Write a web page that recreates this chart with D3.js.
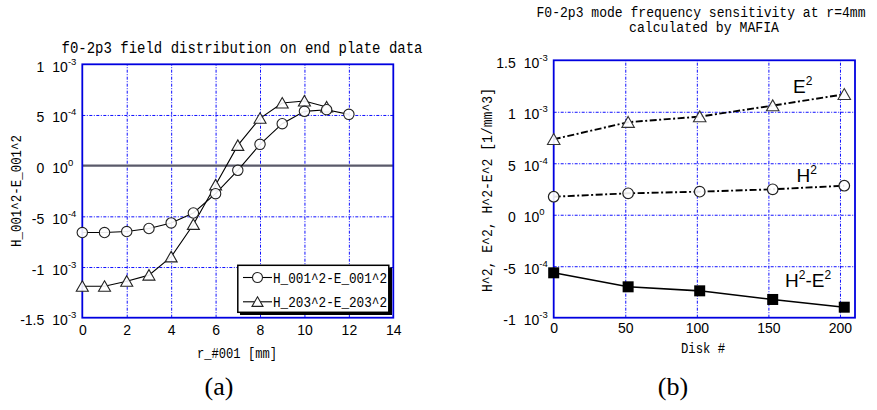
<!DOCTYPE html>
<html><head><meta charset="utf-8">
<script src="https://cdn.jsdelivr.net/npm/d3@7"></script>
<style>body{margin:0;background:#fff}</style>
</head><body>
<svg id="c" width="877" height="410" xmlns="http://www.w3.org/2000/svg"></svg>
<script>
// ---- (a) field distribution on end plate ----
const rH001 = [0, 1, 2, 3, 4, 5, 6, 7, 8, 9, 10, 11, 12];
const h001 = [-6.6e-4, -6.6e-4, -6.5e-4, -6.2e-4, -5.65e-4, -4.67e-4, -2.76e-4, -0.46e-4, 2.1e-4, 4.14e-4, 5.36e-4, 5.52e-4, 5.06e-4];
const rH203 = [0, 1, 2, 3, 4, 5, 6, 7, 8, 9, 10, 11];
const h203 = [-1.19e-3, -1.19e-3, -1.14e-3, -1.08e-3, -0.9e-3, -5.8e-4, -1.9e-4, 2.0e-4, 4.67e-4, 6.18e-4, 6.38e-4, 5.79e-4];
const xTicksA = [0, 2, 4, 6, 8, 10, 12, 14];
const yMantA = ["1", "5", "0", "-5", "-1", "-1.5"];
const yExpA = ["-3", "-4", "0", "-4", "-3", "-3"];
const legendA = ["H_001^2-E_001^2", "H_203^2-E_203^2"];

// ---- (b) frequency sensitivity vs disk ----
const disks = [0, 52, 102, 153, 203];
const eSq = [7.33e-4, 8.99e-4, 9.53e-4, 1.06e-3, 1.17e-3];
const hSq = [1.75e-4, 2.08e-4, 2.24e-4, 2.47e-4, 2.82e-4];
const hMinusE = [-5.64e-4, -7.0e-4, -7.39e-4, -8.23e-4, -8.98e-4];
const xTicksB = [0, 50, 100, 150, 200];
const yMantB = ["1.5", "1", "5", "0", "-5", "-1"];
const yExpB = ["-3", "-3", "-4", "0", "-4", "-3"];

const MONO = "Liberation Mono, DejaVu Sans Mono, monospace";
const SANS = "Liberation Sans, Arial, sans-serif";
const svg = d3.select("#c");

function tickValue(m, e) { return (+m) * Math.pow(10, +e); }

function panel(o) {
  const g = svg.append("g");
  const x = d3.scaleLinear().domain(o.xDom).range([o.left, o.right]);
  const y = d3.scaleLinear().domain(o.yDom).range([o.bottom, o.top]);
  const yVals = o.yMant.map((m, i) => tickValue(m, o.yExp[i]));
  const h = o.bottom - o.top, w = o.right - o.left;

  // dotted blue grid
  const gridStyle = s => {
    s.select(".domain").remove();
    s.selectAll("text").remove();
    s.selectAll("line").attr("stroke", "#1010ff").attr("stroke-width", 1)
      .attr("stroke-dasharray", "3,1.5,1,1.5");
  };
  g.append("g").attr("transform", `translate(0,${o.bottom})`)
    .call(d3.axisBottom(x).tickValues(o.xGrid).tickSize(-h).tickFormat(""))
    .call(gridStyle);
  g.append("g").attr("transform", `translate(${o.left},0)`)
    .call(d3.axisLeft(y).tickValues(yVals.filter(v => v !== 0 || !o.zeroLine)
      .filter(v => y(v) > o.top + 1 && y(v) < o.bottom - 1)).tickSize(-w).tickFormat(""))
    .call(gridStyle);

  if (o.zeroLine) {
    g.append("line").attr("x1", o.left).attr("x2", o.right)
      .attr("y1", y(0)).attr("y2", y(0))
      .attr("stroke", "#5a5a6a").attr("stroke-width", 2.2);
  }

  // x tick labels
  g.append("g").attr("transform", `translate(0,${o.bottom})`)
    .call(d3.axisBottom(x).tickValues(o.xTicks).tickSize(0).tickPadding(o.xPad))
    .call(s => {
      s.select(".domain").remove();
      s.attr("font-family", SANS).attr("font-size", 14);
      s.selectAll("text").attr("fill", "#000");
    });

  // y tick labels written as "m 10^e"
  const ya = g.append("g").attr("transform", `translate(${o.left},0)`)
    .call(d3.axisLeft(y).tickValues(yVals).tickSize(0).tickFormat(""));
  ya.select(".domain").remove();
  ya.selectAll(".tick text").remove();
  ya.attr("font-family", SANS).attr("font-size", 14).attr("text-anchor", null);
  ya.selectAll(".tick").each(function (d, i) {
    const t = d3.select(this);
    t.append("text").attr("x", -38).attr("y", 7).attr("text-anchor", "end")
      .attr("fill", "#000").text(o.yMant[i]);
    const t2 = t.append("text").attr("x", -30).attr("y", 7).attr("text-anchor", "start").attr("fill", "#000");
    t2.append("tspan").text("10");
    t2.append("tspan").attr("dy", -7).attr("font-size", 9.5).text(o.yExp[i]);
  });

  // frame
  g.append("rect").attr("x", o.left).attr("y", o.top).attr("width", w).attr("height", h)
    .attr("fill", "none").attr("stroke", "#0000e0").attr("stroke-width", 1.8);

  return { g, x, y };
}

function triangle(cx, cy, s) {
  const hw = s / 2, hh = s * 0.46;
  return `M${cx},${cy - hh}L${cx + hw},${cy + hh * 0.9}L${cx - hw},${cy + hh * 0.9}Z`;
}

// ================= panel (a) =================
const A = panel({
  left: 82.3, right: 393.3, top: 64.3, bottom: 317.7,
  xDom: [0, 14], yDom: [-1.5e-3, 1e-3],
  xGrid: [2, 4, 6, 8, 10, 12], xTicks: xTicksA, xPad: 7.5,
  yMant: yMantA, yExp: yExpA, zeroLine: true
});
const lineA = d3.line();
const ptsC = rH001.map((r, i) => [A.x(r), A.y(h001[i])]);
const ptsT = rH203.map((r, i) => [A.x(r), A.y(h203[i])]);
A.g.append("path").attr("d", lineA(ptsT)).attr("fill", "none").attr("stroke", "#000").attr("stroke-width", 1.1);
A.g.append("path").attr("d", lineA(ptsC)).attr("fill", "none").attr("stroke", "#000").attr("stroke-width", 1.1);
A.g.selectAll(".tri").data(ptsT).join("path").attr("d", p => triangle(p[0], p[1], 12))
  .attr("fill", "#fff").attr("fill-opacity", 0.9).attr("stroke", "#222").attr("stroke-width", 1.1);
A.g.selectAll(".cir").data(ptsC).join("circle").attr("cx", p => p[0]).attr("cy", p => p[1]).attr("r", 5.2)
  .attr("fill", "#fff").attr("fill-opacity", 0.9).attr("stroke", "#222").attr("stroke-width", 1.1);

// legend
const lg = A.g.append("g");
lg.append("rect").attr("x", 240).attr("y", 267.5).attr("width", 152).attr("height", 47.5).attr("fill", "#000");
lg.append("rect").attr("x", 237.8).attr("y", 265.3).attr("width", 151).attr("height", 47)
  .attr("fill", "#fff").attr("stroke", "#000").attr("stroke-width", 1.5);
legendA.forEach((name, i) => {
  const cy = 277.5 + i * 24.3;
  lg.append("line").attr("x1", 243).attr("x2", 272).attr("y1", cy).attr("y2", cy).attr("stroke", "#000").attr("stroke-width", 1.1);
  if (i === 0) lg.append("circle").attr("cx", 257.5).attr("cy", cy).attr("r", 5).attr("fill", "#fff").attr("stroke", "#222").attr("stroke-width", 1.1);
  else lg.append("path").attr("d", triangle(257.5, cy, 11)).attr("fill", "#fff").attr("stroke", "#222").attr("stroke-width", 1.1);
  lg.append("text").attr("x", 273).attr("y", cy + 5.5).attr("font-family", MONO).attr("font-size", 15)
    .attr("textLength", 114).attr("lengthAdjust", "spacingAndGlyphs").text(name);
});

// titles and axis names (a)
svg.append("text").attr("x", 242).attr("y", 52.5).attr("text-anchor", "middle").attr("font-family", MONO)
  .attr("font-size", 16).attr("textLength", 361).attr("lengthAdjust", "spacingAndGlyphs")
  .text("f0-2p3 field distribution on end plate data");
svg.append("text").attr("transform", "translate(20.5,191) rotate(-90)").attr("text-anchor", "middle")
  .attr("font-family", MONO).attr("font-size", 15).attr("textLength", 112).attr("lengthAdjust", "spacingAndGlyphs")
  .text("H_001^2-E_001^2");
svg.append("text").attr("x", 237).attr("y", 358).attr("text-anchor", "middle").attr("font-family", MONO)
  .attr("font-size", 14).attr("textLength", 80).attr("lengthAdjust", "spacingAndGlyphs")
  .text("r_#001 [mm]");
svg.append("text").attr("x", 219).attr("y", 395).attr("text-anchor", "middle")
  .attr("font-family", "Liberation Serif, Times New Roman, serif").attr("font-size", 26).text("(a)");

// ================= panel (b) =================
const B = panel({
  left: 553.7, right: 855, top: 60.3, bottom: 317.7,
  xDom: [0, 210.5], yDom: [-1e-3, 1.5e-3],
  xGrid: [50, 100, 150, 200], xTicks: xTicksB, xPad: 5.5,
  yMant: yMantB, yExp: yExpB, zeroLine: false
});
const lineB = d3.line();
const pE = disks.map((d, i) => [B.x(d), B.y(eSq[i])]);
const pH = disks.map((d, i) => [B.x(d), B.y(hSq[i])]);
const pD = disks.map((d, i) => [B.x(d), B.y(hMinusE[i])]);
[pE, pH].forEach(p => B.g.append("path").attr("d", lineB(p)).attr("fill", "none")
  .attr("stroke", "#000").attr("stroke-width", 1.9).attr("stroke-dasharray", "7,2.5,2,2.5"));
B.g.append("path").attr("d", lineB(pD)).attr("fill", "none").attr("stroke", "#000").attr("stroke-width", 1.6);
B.g.selectAll(".tri").data(pE).join("path").attr("d", p => triangle(p[0], p[1], 12.5))
  .attr("fill", "#fff").attr("fill-opacity", 0.9).attr("stroke", "#333").attr("stroke-width", 1.1);
B.g.selectAll(".cir").data(pH).join("circle").attr("cx", p => p[0]).attr("cy", p => p[1]).attr("r", 5.3)
  .attr("fill", "#fff").attr("fill-opacity", 0.9).attr("stroke", "#222").attr("stroke-width", 1.2);
B.g.selectAll(".sq").data(pD).join("rect").attr("x", p => p[0] - 5.5).attr("y", p => p[1] - 5.5)
  .attr("width", 11).attr("height", 11).attr("fill", "#000");

// series labels with superscript exponents
function supLabel(x, y, parts) {
  const t = svg.append("text").attr("x", x).attr("y", y).attr("font-family", SANS).attr("font-size", 19);
  let raised = false;
  parts.forEach(([s, sup]) => {
    const dy = sup ? (raised ? 0 : -8) : (raised ? 8 : 0);
    t.append("tspan").attr("dy", dy).attr("font-size", sup ? 12 : 19).text(s);
    raised = sup;
  });
}
supLabel(793, 92.7, [["E", false], ["2", true]]);
supLabel(796.5, 181.7, [["H", false], ["2", true]]);
supLabel(785, 287, [["H", false], ["2", true], ["-E", false], ["2", true]]);

// titles and axis names (b)
svg.append("text").attr("x", 701).attr("y", 17).attr("text-anchor", "middle").attr("font-family", MONO)
  .attr("font-size", 14.5).attr("textLength", 329).attr("lengthAdjust", "spacingAndGlyphs")
  .text("F0-2p3 mode frequency sensitivity at r=4mm");
svg.append("text").attr("x", 704).attr("y", 31.5).attr("text-anchor", "middle").attr("font-family", MONO)
  .attr("font-size", 14.5).attr("textLength", 150).attr("lengthAdjust", "spacingAndGlyphs")
  .text("calculated by MAFIA");
svg.append("text").attr("transform", "translate(491.5,190) rotate(-90)").attr("text-anchor", "middle")
  .attr("font-family", MONO).attr("font-size", 15).attr("textLength", 204).attr("lengthAdjust", "spacingAndGlyphs")
  .text("H^2, E^2, H^2-E^2 [1/mm^3]");
svg.append("text").attr("x", 703).attr("y", 353).attr("text-anchor", "middle").attr("font-family", MONO)
  .attr("font-size", 14).attr("textLength", 44).attr("lengthAdjust", "spacingAndGlyphs")
  .text("Disk #");
svg.append("text").attr("x", 673).attr("y", 395).attr("text-anchor", "middle")
  .attr("font-family", "Liberation Serif, Times New Roman, serif").attr("font-size", 26).text("(b)");
</script>
</body></html>
